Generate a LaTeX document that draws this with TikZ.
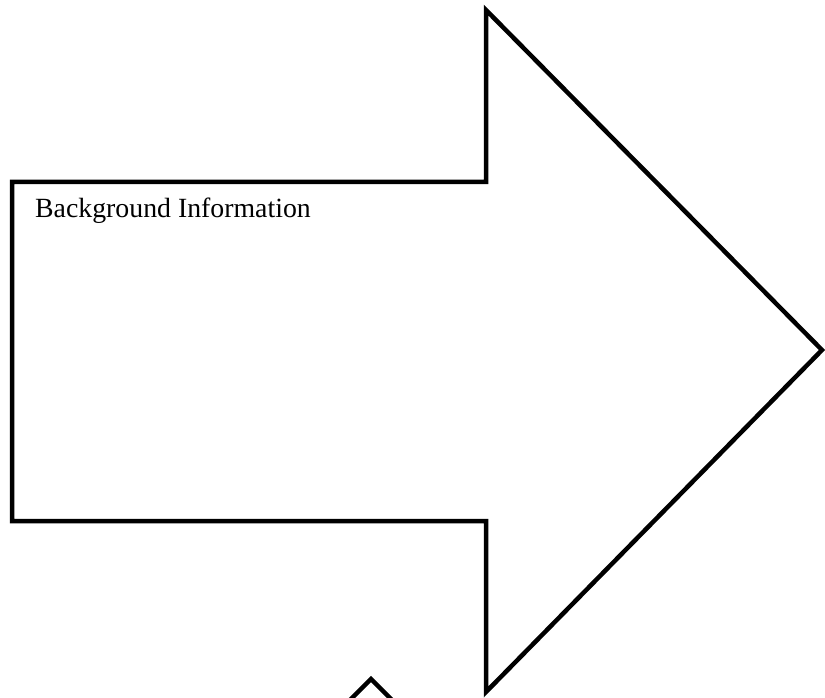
\documentclass[tikz,border=0pt]{standalone}
\usepackage{fontspec}
\setmainfont{Liberation Serif}
\usetikzlibrary{calc}
\begin{document}
\begin{tikzpicture}[x=1pt,y=-1pt,
  shapeline/.style={draw=black,line width=4.5pt,line join=miter,fill=white},
  lbl/.style={font=\fontsize{27.8}{32}\selectfont,anchor=base west,inner sep=0pt}]
\useasboundingbox (0,0) rectangle (825,698);
\clip (0,0) rectangle (825,698);
\draw[shapeline] (12,182) -- (486,182) -- (486,10) -- (822,350) -- (486,692) -- (486,521) -- (12,521) -- cycle;
\coordinate (peak) at (371,679);
\draw[shapeline,fill=none] ($(peak)+(-40,40)$) -- (peak) -- ($(peak)+(40,40)$);
\node[lbl] (t) at (35,217) {Background Information};
\end{tikzpicture}
\end{document}
